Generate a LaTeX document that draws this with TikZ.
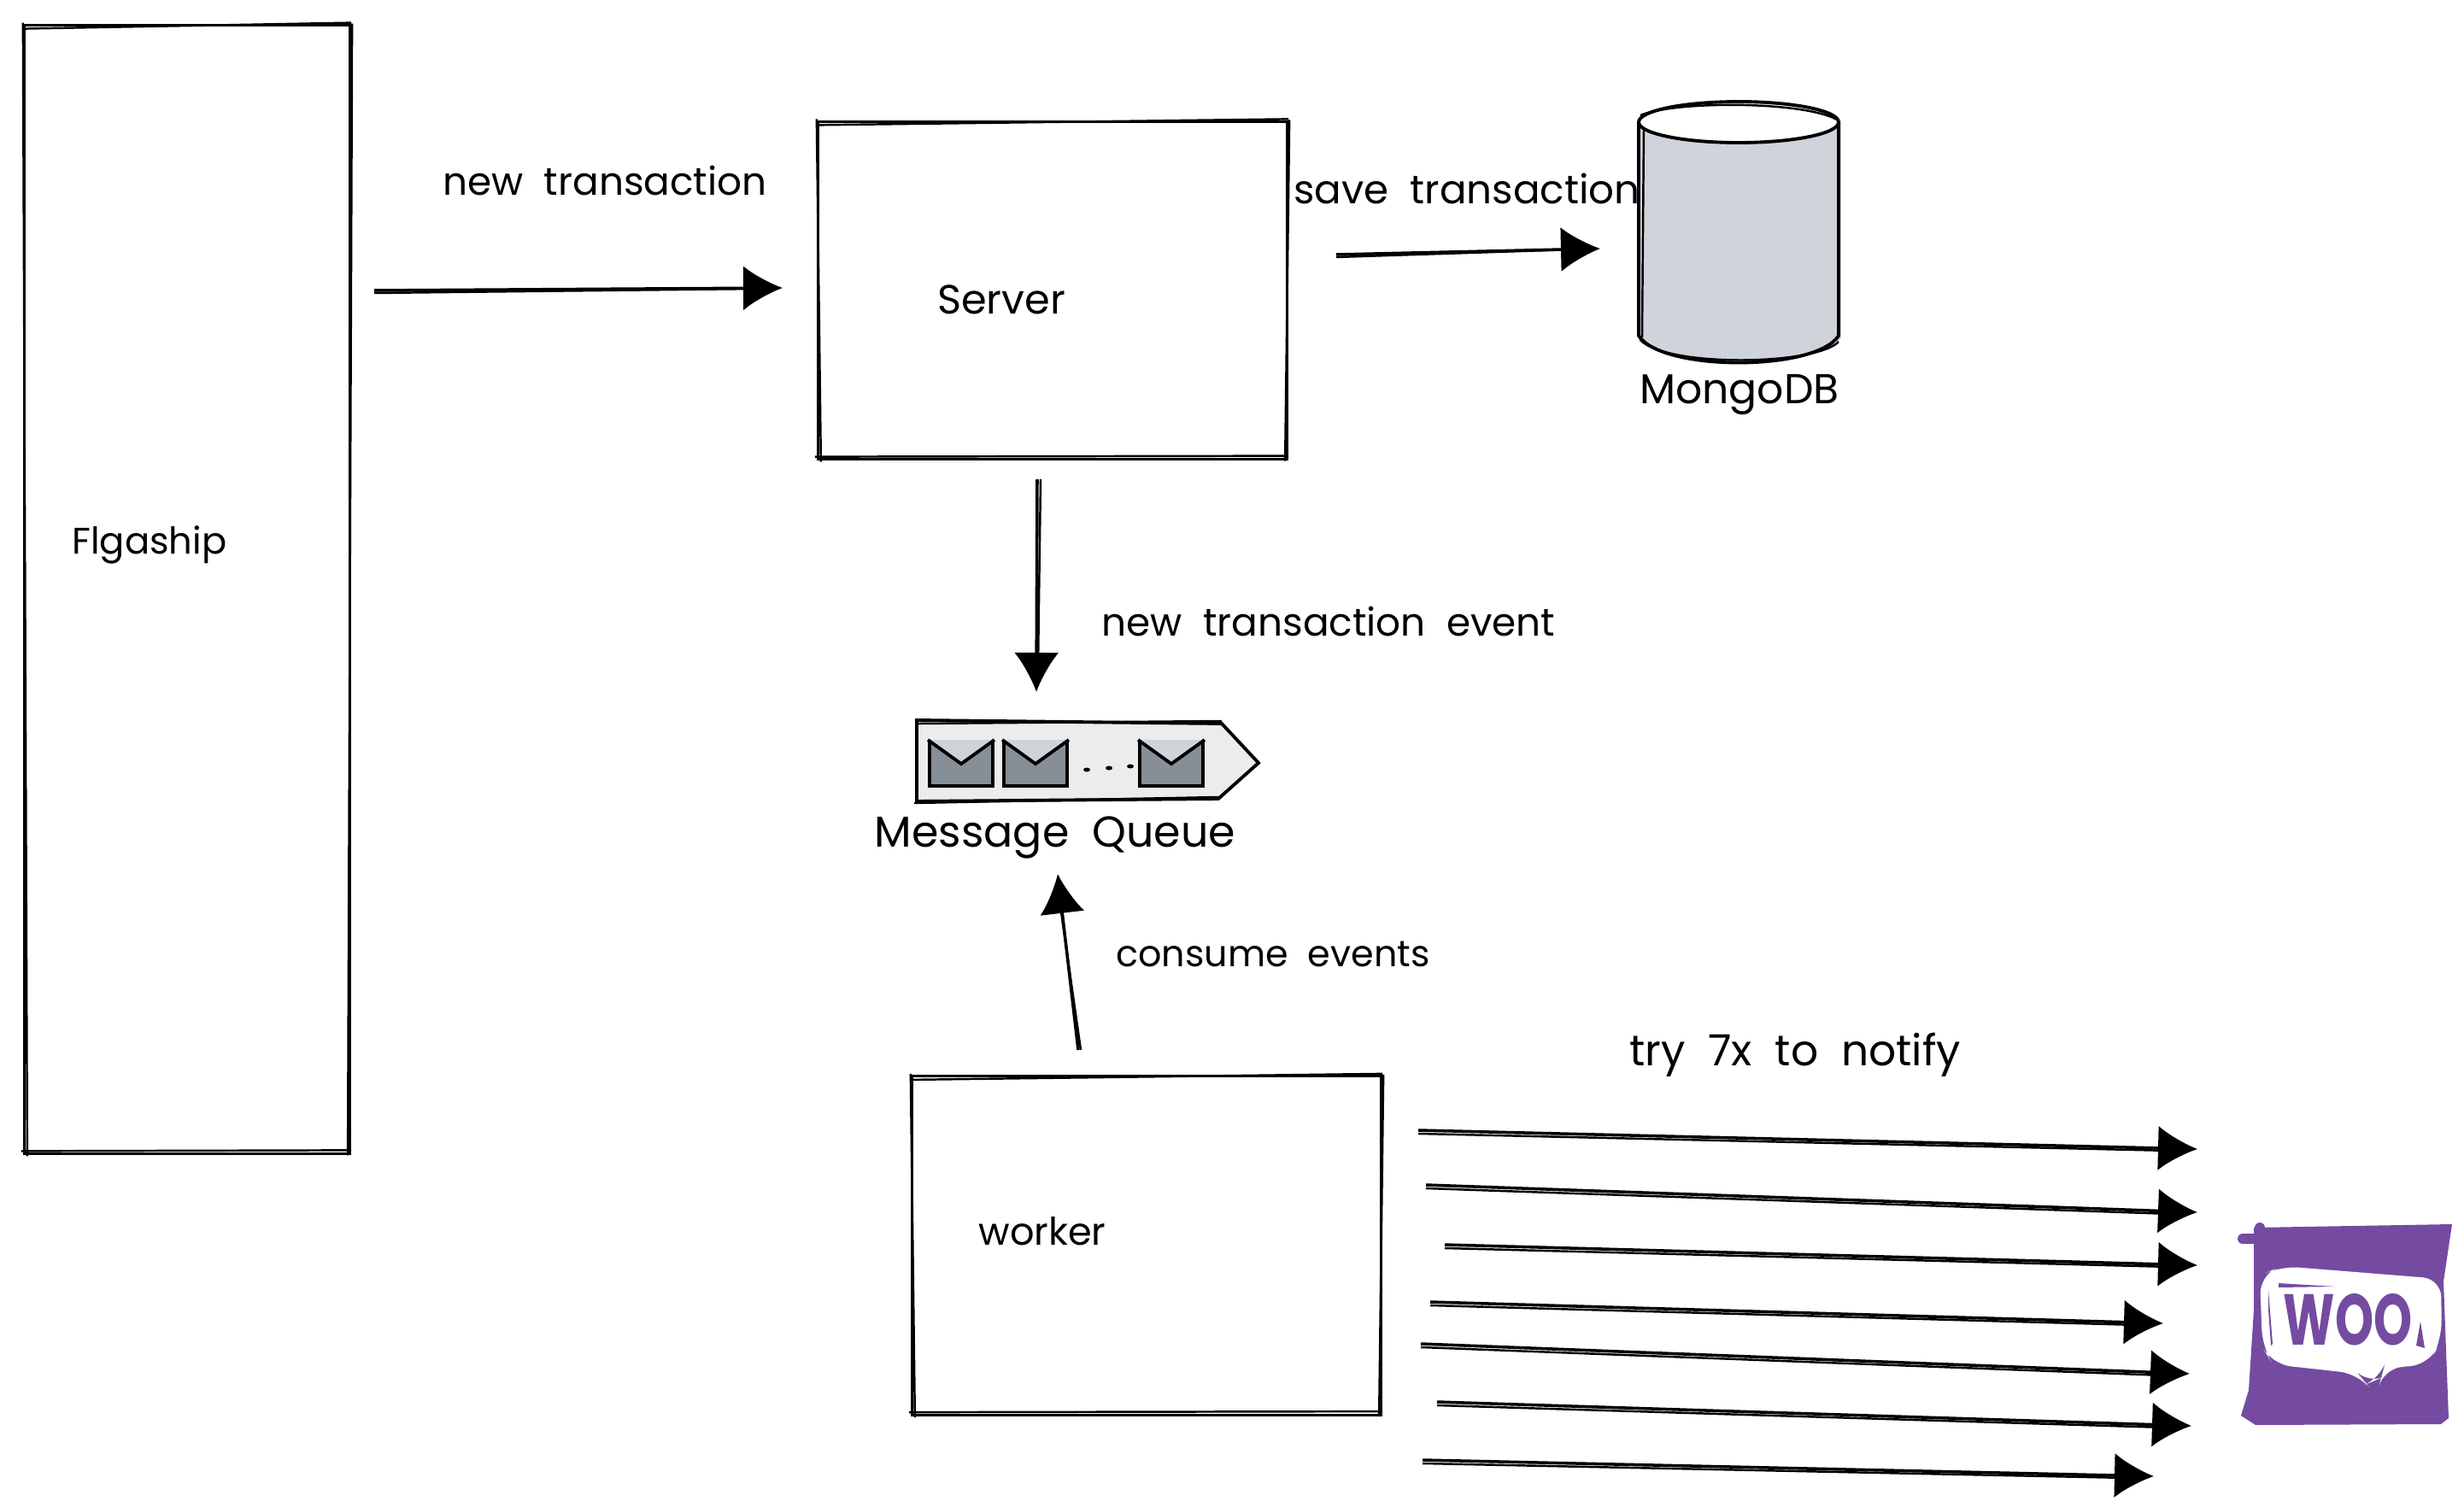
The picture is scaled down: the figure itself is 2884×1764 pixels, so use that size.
\documentclass[tikz,border=0pt]{standalone}
\usepackage{fontspec}
\setmainfont[WordSpace=2]{Poppins}
\usetikzlibrary{arrows.meta,positioning}

\definecolor{mongofill}{HTML}{CED4DA}
\definecolor{mailfill}{HTML}{868E96}
\definecolor{queuefill}{HTML}{ECECEC}
\definecolor{woofill}{HTML}{744BA0}

\tikzset{
	boxnode/.style = {draw, line width = 0.9pt, inner sep = 0pt, outer sep = 0pt},
	pass/.style = {line width = 0.7pt},
	flow/.style = {line width = 1pt, -{Latex[length = 0.46cm, width = 0.52cm]}},
	textnode/.style = {inner sep = 0pt, font = \fontsize{#1}{16}\selectfont},
	textnode/.default = 12.9,
	mail/.style = {draw, fill = mailfill, line width = 1.1pt, minimum width = 0.74cm, minimum height = 0.52cm, inner sep = 0pt}
}

\newcommand{\sketchbox}[1]{
\draw [pass] ([shift={(-2,4)}]#1.north west) -- ([shift={(2,-3)}]#1.north east)
	([shift={(3,-2)}]#1.north east) -- ([shift={(-2,2)}]#1.south east)
	([shift={(2,-4)}]#1.south east) -- ([shift={(-4,-3)}]#1.south west)
	([shift={(3,3)}]#1.south west) -- ([shift={(-2,-3)}]#1.north west);
}

\begin{document}
\begin{tikzpicture}[x = 0.01cm, y = -0.01cm]
\useasboundingbox (0,0) rectangle (2884,1764);

\node [boxnode, minimum width = 3.80cm, minimum height = 13.20cm] (flagship) at (219,690) {};
\node [boxnode, minimum width = 5.48cm, minimum height = 3.95cm] (server) at (1232,340) {};
\node [boxnode, minimum width = 5.48cm, minimum height = 3.96cm] (worker) at (1342,1458) {};
\sketchbox{flagship}
\sketchbox{server}
\sketchbox{worker}

\fill [mongofill] (2030,143) -- (2155,141) -- (2155,395) -- (2152,400) -- (1918,400) -- (1922,143) -- cycle;
\draw [line width = 1.1pt, fill = mongofill] (1918,143) -- (1918,393)
	.. controls (1945,435) and (2125,435) .. (2152,393) -- (2152,143);
\draw [pass] (1924,150) -- (1922,395) (1920,398) .. controls (1950,430) and (2125,428) .. (2152,400);
\draw [line width = 1.1pt, fill = white] (2035,143) ellipse (117 and 24);
\draw [pass] (1920,135) .. controls (1960,118) and (2110,118) .. (2150,140);

\draw [line width = 1.1pt, fill = queuefill] (1073,843) -- (1430,847) -- (1473,893)
	-- (1426,935) -- (1073,938) -- cycle;
\draw [pass] (1075,847) -- (1430,844) (1070,940) -- (1426,933);
\foreach \name/\x in {mail1/1125, mail2/1212, mail3/1371} {
	\node [mail] (\name) at (\x,894) {};
	\fill [mongofill] (\name.north west) -- (\name.north east) -- ([yshift=-0.26cm]\name.north) -- cycle;
	\draw [line width = 1.1pt] (\name.north west) -- ([yshift=-0.28cm]\name.north) -- (\name.north east);
}
\foreach \x/\y in {1272/901, 1298/899, 1323/897}
	\fill (\x,\y) ellipse (4 and 2.5);

\node [textnode = 12.3] (flagshiptext) at (175,638) {Flgaship};
\node [textnode = 13.6] (servertext) at (1172,351) {Server};
\node [textnode = 12.7] (workertext) at (1220,1441) {worker};
\node [textnode] (newtx) at (708,211) {new transaction};
\node [textnode = 13.3] (savetx) at (1717,221) {save transaction};
\node [textnode] (newevent) at (1555,727) {new transaction event};
\node [textnode = 12.2] (consume) at (1490,1117) {consume events};
\node [textnode = 14.3] (notify) at (2101,1235) {try 7x to notify};
\node [textnode = 13.9] (mongotext) at (2036,462) {MongoDB};
\node [textnode = 14.4] (queuetext) at (1235,980) {Message Queue};

\coordinate (newstart) at (438,340);
\coordinate (newend) at (916,337);
\coordinate (savestart) at (1564,298);
\coordinate (saveend) at (1873,291);
\coordinate (eventstart) at (1214,561);
\coordinate (eventend) at (1213,810);
\coordinate (consumestart) at (1262,1229);
\coordinate (consumeend) at (1238,1023);
\foreach \i/\a/\b/\c/\d in {1/1660/1323/2572/1345, 2/1669/1387/2572/1419, 3/1691/1457/2572/1481,
	4/1674/1524/2532/1549, 5/1663/1573/2563/1608, 6/1682/1641/2565/1669, 7/1665/1709/2521/1728} {
	\coordinate (try\i start) at (\a,\b);
	\coordinate (try\i end) at (\c,\d);
	\draw [flow] (try\i start) -- (try\i end);
	\draw [pass] ([shift={(0,4)}]try\i start) -- ([shift={(-30,2)}]try\i end);
}
\draw [flow] (newstart) -- (newend);
\draw [pass] ([shift={(0,3)}]newstart) -- ([shift={(-30,1)}]newend);
\draw [flow] (savestart) -- (saveend);
\draw [pass] ([shift={(0,3)}]savestart) -- ([shift={(-30,1)}]saveend);
\draw [flow] (eventstart) -- (eventend);
\draw [pass] ([shift={(4,0)}]eventstart) -- ([shift={(2,-30)}]eventend);
\draw [flow] (consumestart) -- (consumeend);
\draw [pass] ([shift={(3,0)}]consumestart) -- ([shift={(2,30)}]consumeend);

\fill [woofill] (2638,1437) -- (2870,1433) -- (2860,1500) -- (2866,1660) -- (2857,1667)
	-- (2640,1668) -- (2623,1657) -- (2632,1627) -- (2638,1533) -- cycle;
\draw [woofill, line width = 3.4pt, line cap = round] (2625,1450) -- (2642,1450)
	(2645,1437) -- (2645,1450);
\fill [white, rounded corners = 6pt] (2645,1493) -- (2670,1482) -- (2857,1497) -- (2858,1567)
	-- (2843,1597) -- (2790,1602) -- (2787,1613) -- (2770,1620) -- (2760,1608)
	-- (2660,1597) -- (2648,1577) -- cycle;
\fill [woofill] (2667,1502) -- (2733,1506) -- (2667,1507) -- cycle
	(2655,1510) -- (2660,1573) -- (2658,1575) -- (2655,1533) -- cycle
	(2833,1547) -- (2838,1578) -- (2828,1575) -- cycle;
\node [inner sep = 0pt, text = woofill, xscale = 0.68, font = \fontsize{24}{28}\selectfont\bfseries] (woo) at (2748,1545) {WOO};
\end{tikzpicture}
\end{document}
